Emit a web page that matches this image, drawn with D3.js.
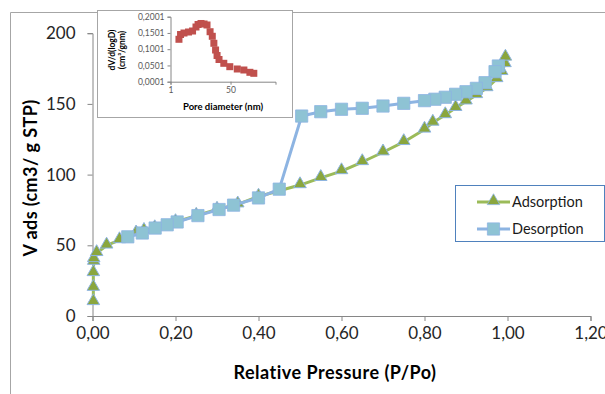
<!DOCTYPE html>
<html>
<head>
<meta charset="utf-8">
<script src="https://cdn.jsdelivr.net/npm/d3@7"></script>
<style>
  body { margin: 0; background: #fff; }
  svg { display: block; font-family: Lato, "Open Sans", sans-serif; }
</style>
</head>
<body>
<div id="container"></div>
<script>
// isotherm
const adsP = [0.002,0.002,0.002,0.003,0.003,0.01,0.034,0.065,0.105,0.124,0.15,0.20,0.25,0.30,0.35,0.40,0.50,0.55,0.60,0.65,0.70,0.75,0.80,0.82,0.85,0.875,0.90,0.925,0.95,0.974,0.986,0.994,0.995];
const adsV = [9.9,20,30.4,38.4,40.3,44.6,49.9,53.7,58.5,60.3,62.2,66.5,71,75.3,79,84.5,92.6,97.7,102.5,108.9,115.8,123.1,131.9,136.8,142.1,147.2,151.8,156.3,161.2,167.6,172.6,178.2,182.8];
const desP = [0.978,0.97,0.946,0.925,0.90,0.875,0.85,0.825,0.80,0.75,0.70,0.65,0.60,0.55,0.504,0.45,0.40,0.34,0.305,0.254,0.204,0.18,0.151,0.12,0.085];
const desV = [176.8,172.8,165,161,158.6,156.8,154.7,153.3,152.3,150.4,148.5,146.9,146.2,144.5,141.4,89.7,83.5,78.4,75.3,71,66.5,64.5,62.2,58.7,56];
const xTicks = [0,0.2,0.4,0.6,0.8,1.0,1.2];
const yTicks = [0,50,100,150,200];

// pore size distribution (inset)
const poreD = [7.9,9.2,12.0,15.7,19.0,21.8,23.5,25.9,28.4,30.8,33.3,35.1,36.4,37.8,39.0,40.6,44.5,49.4,55.5,60.9,65.8,69.0];
const poreV = [0.1306,0.1453,0.1499,0.1530,0.1561,0.1684,0.1761,0.1792,0.1776,0.1746,0.1539,0.1398,0.1183,0.0976,0.0807,0.0684,0.0567,0.0463,0.0392,0.0361,0.0290,0.0259];
const insetXTicks = [1,50];
const insetYTicks = [0.0001,0.0501,0.1001,0.1501,0.2001];

const width = 605, height = 394;
const loc = d3.formatLocale({decimal: ",", thousands: ".", grouping: [3], currency: ["", ""]});

const svg = d3.select("#container")
  .append("svg")
    .attr("width", width)
    .attr("height", height);

svg.append("rect").attr("width", width).attr("height", height).attr("fill", "#fff");

// chart frame (cut by the crop)
svg.append("path")
  .attr("d", "M10.5,394V12.5H605")
  .attr("fill", "none")
  .attr("stroke", "#a6a6a6");

const x = d3.scaleLinear().domain([0, 1.2]).range([92.5, 590.5]);
const y = d3.scaleLinear().domain([0, 200]).range([316, 33.2]);

const xAxis = svg.append("g")
  .attr("transform", "translate(0," + y(0) + ")")
  .call(d3.axisBottom(x).tickValues(xTicks).tickSize(5).tickPadding(6).tickFormat(loc.format(".2f")));
const yAxis = svg.append("g")
  .attr("transform", "translate(" + x(0) + ",0)")
  .call(d3.axisLeft(y).tickValues(yTicks).tickSize(5).tickPadding(12));
[xAxis, yAxis].forEach(function(g){
  g.select(".domain").attr("stroke", "#868686");
  g.selectAll(".tick line").attr("stroke", "#868686");
  g.selectAll(".tick text").attr("fill", "#262626").style("font-size", "17px").style("font-family", "Lato, sans-serif");
});

svg.append("text")
  .attr("x", 335).attr("y", 379)
  .attr("text-anchor", "middle")
  .style("font-size", "18px").style("font-weight", "bold").style("letter-spacing", "0.5px")
  .text("Relative Pressure (P/Po)");
svg.append("text")
  .attr("transform", "translate(37,178) rotate(-90)")
  .attr("text-anchor", "middle")
  .style("font-size", "18px").style("font-weight", "bold").style("letter-spacing", "0.4px")
  .text("V ads (cm3/ g STP)");

const ads = adsP.map(function(p, i){ return [p, adsV[i]]; });
const des = desP.map(function(p, i){ return [p, desV[i]]; });
const line = d3.line().x(function(d){ return x(d[0]); }).y(function(d){ return y(d[1]); });

const tri = d3.symbol().type(d3.symbolTriangle).size(68);
const sq = d3.symbol().type(d3.symbolSquare).size(150);

svg.append("path").datum(ads)
  .attr("d", line).attr("fill", "none")
  .attr("stroke", "#9bbb59").attr("stroke-width", 3).attr("stroke-linejoin", "round");
svg.append("g")
  .selectAll("path")
  .data(ads)
  .join("path")
    .attr("transform", function(d){ return "translate(" + x(d[0]) + "," + (y(d[1]) - 1) + ")"; })
    .attr("d", tri)
    .attr("fill", "#8aa63e")
    .attr("stroke", "#8db4e2").attr("stroke-width", 1);

svg.append("path").datum(des)
  .attr("d", line).attr("fill", "none")
  .attr("stroke", "#8db4e2").attr("stroke-width", 3).attr("stroke-linejoin", "round");
svg.append("g")
  .selectAll("path")
  .data(des)
  .join("path")
    .attr("transform", function(d){ return "translate(" + x(d[0]) + "," + y(d[1]) + ")"; })
    .attr("d", sq)
    .attr("fill", "#8ec3d4")
    .attr("stroke", "#8db4e2").attr("stroke-width", 0.8);

// legend
const legend = svg.append("g");
legend.append("rect")
  .attr("x", 455.5).attr("y", 185.5).attr("width", 149).attr("height", 56)
  .attr("fill", "#fff").attr("stroke", "#4f81bd");
const items = [
  {name: "Adsorption", color: "#9bbb59", sym: tri, fill: "#8aa63e", yy: 202},
  {name: "Desorption", color: "#8db4e2", sym: sq, fill: "#8ec3d4", yy: 229}
];
items.forEach(function(it){
  legend.append("line")
    .attr("x1", 477).attr("x2", 510).attr("y1", it.yy).attr("y2", it.yy)
    .attr("stroke", it.color).attr("stroke-width", 3);
  legend.append("path")
    .attr("transform", "translate(493.5," + (it.yy - (it.sym === tri ? 1 : 0)) + ")")
    .attr("d", it.sym)
    .attr("fill", it.fill).attr("stroke", "#8db4e2").attr("stroke-width", 0.8);
  legend.append("text")
    .attr("x", 512).attr("y", it.yy + 5)
    .style("font-size", "14.5px").attr("fill", "#1a1a1a")
    .text(it.name);
});

// inset
const inset = svg.append("g");
inset.append("rect")
  .attr("x", 97.5).attr("y", 10.5).attr("width", 195).attr("height", 107)
  .attr("fill", "#fff").attr("stroke", "#a6a6a6");

const ix = d3.scaleLinear().domain([1, 86.7]).range([170.5, 275.5]);
const iy = d3.scaleLinear().domain([0.0001, 0.2001]).range([81.7, 16.7]);

const ixAxis = inset.append("g")
  .attr("transform", "translate(0," + iy(0.0001) + ")")
  .call(d3.axisBottom(ix).tickValues(insetXTicks).tickSize(3).tickPadding(2).tickFormat(d3.format("d")));
const iyAxis = inset.append("g")
  .attr("transform", "translate(" + ix(1) + ",0)")
  .call(d3.axisLeft(iy).tickValues(insetYTicks).tickSize(3).tickPadding(3).tickFormat(loc.format(".4f")));
[ixAxis, iyAxis].forEach(function(g){
  g.select(".domain").attr("stroke", "#868686");
  g.selectAll(".tick line").attr("stroke", "#868686");
  g.selectAll(".tick text").attr("fill", "#595959").style("font-size", "8.5px").style("font-family", "Lato, sans-serif");
});

inset.append("g")
  .selectAll("rect")
  .data(poreD)
  .join("rect")
    .attr("x", function(d){ return ix(d) - 3.5; })
    .attr("y", function(d, i){ return iy(poreV[i]) - 3.5; })
    .attr("width", 7).attr("height", 7)
    .attr("fill", "#c0504d");

inset.append("text")
  .attr("x", 223).attr("y", 110)
  .attr("text-anchor", "middle")
  .style("font-size", "9.5px").style("font-weight", "bold")
  .text("Pore diameter (nm)");
const ttl = inset.append("text")
  .attr("transform", "translate(115,50) rotate(-90)")
  .attr("text-anchor", "middle")
  .style("font-size", "8.5px").style("font-weight", "bold");
ttl.append("tspan").attr("x", 0).attr("dy", 0).text("dV/d(logD)");
ttl.append("tspan").attr("x", 0).attr("dy", 10).text("(cm\u00b3/gnm)");
</script>
</body>
</html>
